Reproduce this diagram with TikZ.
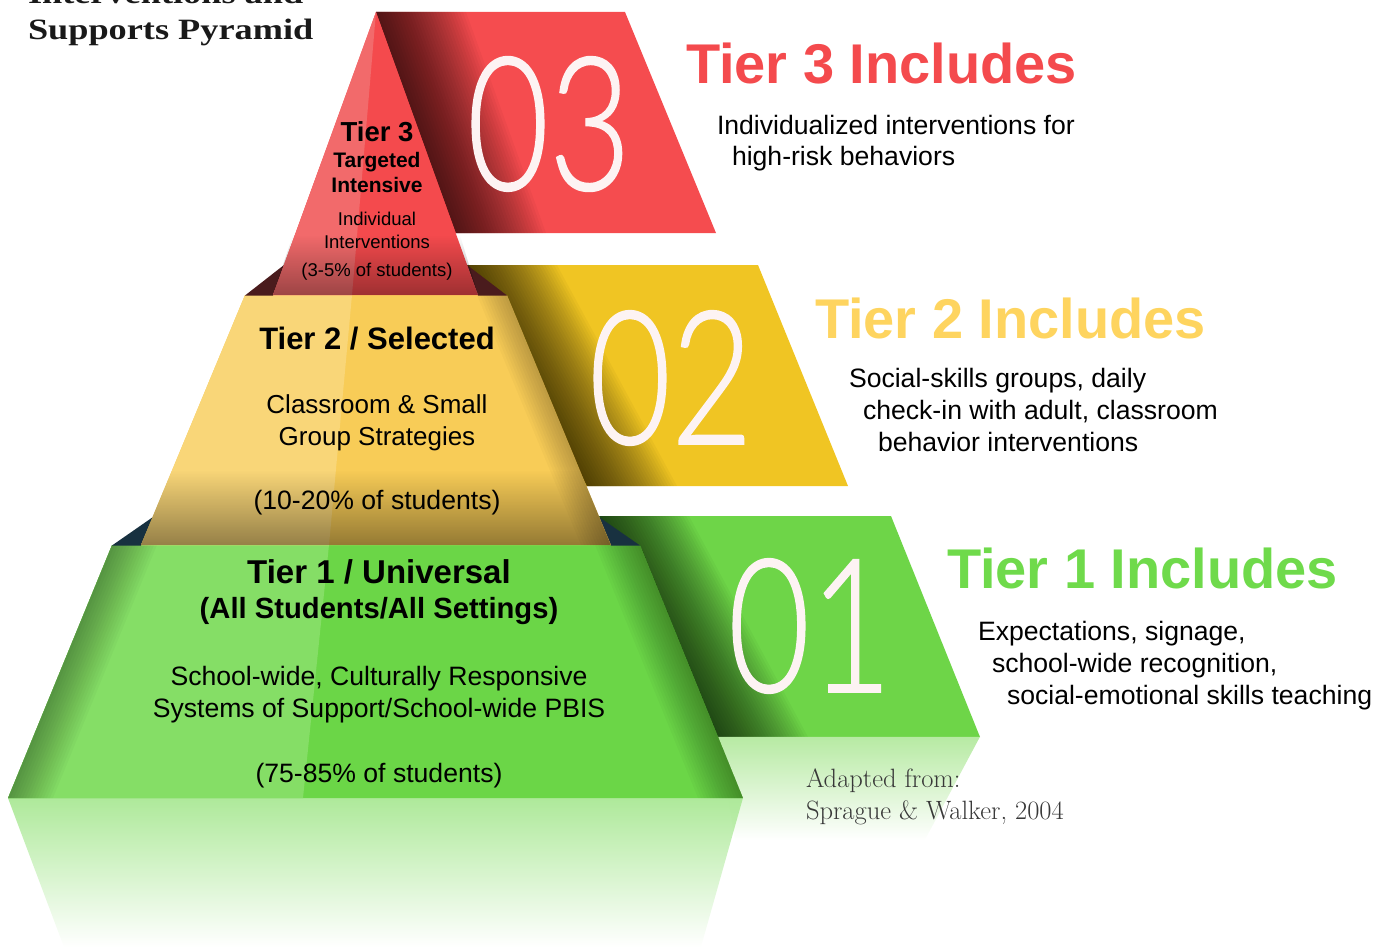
\documentclass[tikz,border=0pt]{standalone}
\usepackage{fontspec}
\setmainfont{Liberation Sans}
\newfontfamily\serifFont{Latin Modern Roman}
\newfontfamily\titleFont{Liberation Serif}
\newfontfamily\numFont{Lato Light}[FakeBold=1]
\usetikzlibrary{calc}
\usetikzlibrary{positioning}
\usetikzlibrary{fadings}
\definecolor{bannerRed}{HTML}{F54C4F}
\definecolor{faceRed}{HTML}{F44A4D}
\definecolor{faceRedLight}{HTML}{F26A6B}
\definecolor{bannerYellow}{HTML}{F0C523}
\definecolor{faceYellow}{HTML}{F8CC57}
\definecolor{faceYellowLight}{HTML}{F9D678}
\definecolor{headYellow}{HTML}{FED45F}
\definecolor{bannerGreen}{HTML}{6ED548}
\definecolor{faceGreen}{HTML}{6BD647}
\definecolor{faceGreenLight}{HTML}{85DE66}
\definecolor{headGreen}{HTML}{6FDA4B}
\definecolor{wedgeRed}{HTML}{4A1B1D}
\definecolor{wedgeNavy}{HTML}{183140}
\definecolor{numWhite}{HTML}{FDF3F3}
\definecolor{creditGrey}{HTML}{383838}
\tikzfading[name=fadeDown, top color=transparent!100, bottom color=transparent!0]
\tikzfading[name=fadeOut, top color=transparent!0, bottom color=transparent!100]
\newcommand{\fsz}[2]{\fontsize{#1}{#2}\selectfont}
\newcommand{\edgeshade}[4][0.03]{
    \foreach \w in {#4}
        \fill [black, opacity=#1] (#2) -- (#3) -- ($(#3)+(\w,0)$) -- ($(#2)+(\w,0)$) -- cycle;
}
\tikzset{
    headText/.style={anchor=base west, font=\bfseries\fsz{56}{60}},
    bodyText/.style={anchor=base west, align=left, font=\fsz{26.6}{32}},
    numText/.style={text=numWhite, font=\numFont\fsz{186}{186}},
    pyrText/.style={anchor=base, align=center},
    titleText/.style={anchor=base west, font=\titleFont\bfseries\fsz{29.5}{36}, text=black!90},
}

\begin{document}
\begin{tikzpicture}[x=1pt, y=-1pt, inner sep=0pt, outer sep=0pt]
    \useasboundingbox (0,0) rectangle (1385,947);
    \clip (0,0) rectangle (1385,947);

    % banners behind the pyramid
    \fill [bannerRed] (376,12) -- (625,12) -- (716,233) -- (420,233) -- cycle;
    \edgeshade{376,12}{456,233}{3,6,...,90}
    \fill [bannerYellow] (467,265) -- (758,265) -- (848,486) -- (560,486) -- cycle;
    \edgeshade{467,265}{587,486}{3,6,...,90}
    \fill [bannerGreen] (599,516) -- (891,516) -- (980,737) -- (700,737) -- cycle;
    \edgeshade{599,516}{718,737}{3,6,...,90}

    % reflections
    \fill [bannerGreen!50, path fading=fadeOut] (718,737) -- (980,737) -- (925,840) -- (735,840) -- cycle;
    \fill [faceGreen!55, path fading=fadeOut] (8,798) -- (743,798) -- (701,947) -- (64,947) -- cycle;

    % tier 1
    \fill [faceGreen] (112,545) -- (640,545) -- (743,798) -- (8,798) -- cycle;
    \fill [faceGreenLight] (112,545) -- (329,545) -- (303,798) -- (8,798) -- cycle;
    \edgeshade[0.025]{112,545}{8,798}{3,6,...,45}
    \edgeshade[0.025]{640,545}{743,798}{-3,-6,...,-45}
    \fill [wedgeNavy] (153,517) -- (112,545.5) -- (141,545.5) -- cycle;
    \fill [wedgeNavy] (599,517) -- (640,545.5) -- (611,545.5) -- cycle;

    % tier 2
    \fill [faceYellow] (245,295) -- (507,295) -- (611,545) -- (141,545) -- cycle;
    \fill [faceYellowLight] (245,295) -- (352,295) -- (329,545) -- (141,545) -- cycle;
    \edgeshade[0.025]{507,295}{611,545}{-3,-6,...,-30}
    \fill [black, opacity=0.4, path fading=fadeDown] (172,470) -- (580,470) -- (611,545) -- (141,545) -- cycle;
    \fill [wedgeRed] (284,265) -- (245,295.5) -- (273,295.5) -- cycle;
    \fill [wedgeRed] (467,265) -- (507,295.5) -- (478,295.5) -- cycle;

    % tier 3
    \fill [faceRed] (376,12) -- (478,295) -- (273,295) -- cycle;
    \fill [faceRedLight] (376,12) -- (352,295) -- (273,295) -- cycle;
    \fill [black, opacity=0.35, path fading=fadeDown] (293,235) -- (460,235) -- (478,295) -- (273,295) -- cycle;

    % big numbers
    \node (num3) [numText] at (549,124) {\scalebox{0.76}[1]{03}};
    \node (num2) [numText] at (671,378) {\scalebox{0.76}[1]{02}};
    \node (num1) [numText] at (810,626) {\scalebox{0.76}[1]{01}};

    % title
    \node (title_a) [titleText] at (28,4) {\scalebox{1.23}[1]{Interventions and}};
    \node (title_b) [titleText, below=35.5pt of title_a.base west, anchor=base west] {\scalebox{1.23}[1]{Supports Pyramid}};

    % tier 3 text
    \node (tier3_title) [pyrText, font=\bfseries\fsz{27.5}{30}] at (377,142) {Tier 3};
    \node (tier3_kind) [pyrText, below=51pt of tier3_title.base, anchor=base, font=\bfseries\fsz{21}{25}] {Targeted\\Intensive};
    \node (tier3_desc) [pyrText, below=55pt of tier3_kind.base, anchor=base, font=\fsz{18.5}{22.5}] {Individual\\Interventions};
    \node (tier3_share) [pyrText, below=28pt of tier3_desc.base, anchor=base, font=\fsz{18.5}{22.5}] {(3-5\% of students)};

    % tier 2 text
    \node (tier2_title) [pyrText, font=\bfseries\fsz{31}{34}] at (377,349) {Tier 2 / Selected};
    \node (tier2_desc) [pyrText, below=96pt of tier2_title.base, anchor=base, font=\fsz{26}{32}] {Classroom \& Small\\Group Strategies};
    \node (tier2_share) [pyrText, below=64pt of tier2_desc.base, anchor=base, font=\fsz{26.6}{32}] {(10-20\% of students)};

    % tier 1 text
    \node (tier1_title) [pyrText, font=\bfseries\fsz{33}{36}] at (379,583) {Tier 1 / Universal};
    \node (tier1_scope) [pyrText, below=35pt of tier1_title.base, anchor=base, font=\bfseries\fsz{29.2}{32}] {(All Students/All Settings)};
    \node (tier1_desc) [pyrText, below=99pt of tier1_scope.base, anchor=base, font=\fsz{26.6}{32}] {School-wide, Culturally Responsive\\Systems of Support/School-wide PBIS};
    \node (tier1_share) [pyrText, below=65pt of tier1_desc.base, anchor=base, font=\fsz{26.6}{32}] {(75-85\% of students)};

    % includes column
    \node (inc3_head) [headText, text=faceRed] at (686,84) {Tier 3 Includes};
    \node (inc3_body) [bodyText, below=82pt of inc3_head.base west, anchor=base west, xshift=31pt] {Individualized interventions for\\\hspace*{15pt}high-risk behaviors};
    \node (inc2_head) [headText, text=headYellow] at (815,338) {Tier 2 Includes};
    \node (inc2_body) [bodyText, below=113pt of inc2_head.base west, anchor=base west, xshift=34pt] {Social-skills groups, daily\\\hspace*{14pt}check-in with adult, classroom\\\hspace*{29pt}behavior interventions};
    \node (inc1_head) [headText, text=headGreen] at (947,588) {Tier 1 Includes};
    \node (inc1_body) [bodyText, below=116pt of inc1_head.base west, anchor=base west, xshift=31pt] {Expectations, signage,\\\hspace*{14pt}school-wide recognition,\\\hspace*{29pt}social-emotional skills teaching};

    % credit
    \node (credit) [anchor=base west, align=left, font=\serifFont\fsz{26.5}{32}, text=creditGrey] at (806,819) {Adapted from:\\Sprague \& Walker, 2004};
\end{tikzpicture}
\end{document}
